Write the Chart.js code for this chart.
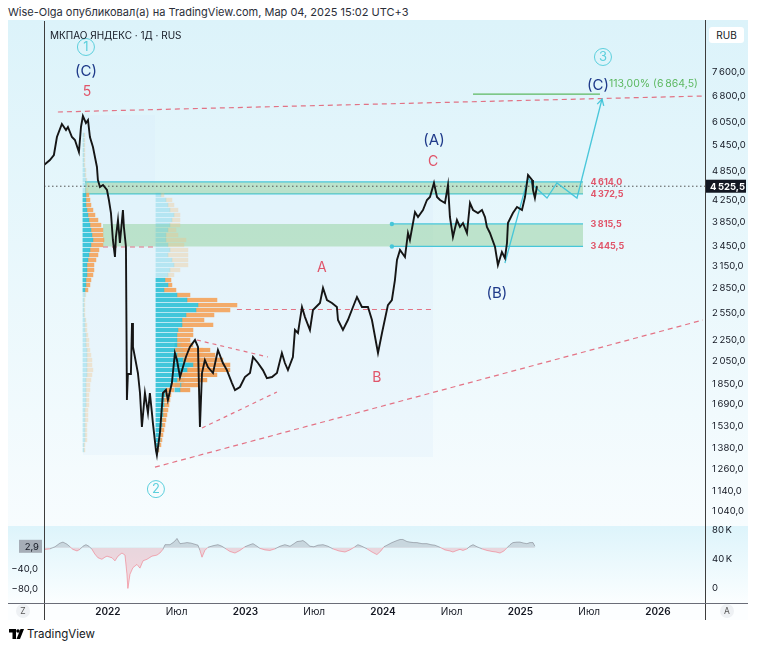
<!DOCTYPE html>
<html lang="ru">
<head>
<meta charset="utf-8">
<title>МКПАО ЯНДЕКС · 1Д</title>
<script src="https://cdn.jsdelivr.net/npm/chart.js@4.4.1/dist/chart.umd.min.js"></script>
<style>
  html, body { margin: 0; padding: 0; }
  body { width: 758px; height: 649px; position: relative; overflow: hidden; background: #fff;
         font-family: Inter, "Noto Sans", "DejaVu Sans", sans-serif; color: #131722; }
  .abs { position: absolute; }
  #title { left: 8px; top: 5px; font-size: 11px; color: #2a2e39; white-space: nowrap; }
  #paneMain { left: 8px; top: 20px; width: 740px; height: 506px; background: linear-gradient(#dcf3fa, #f7fcfe); }
  #paneLow { left: 8px; top: 526px; width: 740px; height: 77px; background: linear-gradient(#ddf4fb, #fbfeff); }
  #paneTime { left: 8px; top: 603px; width: 740px; height: 17px; background: #fcfeff; }
  #vline1 { left: 44px; top: 21px; width: 1px; height: 599px; background: #3d3d3d; }
  #vline2 { left: 705px; top: 20px; width: 1px; height: 600px; background: #3d3d3d; }
  #hline { left: 8px; top: 603px; width: 740px; height: 1px; background: #6a6d78; }
  #legend { left: 50px; top: 29px; font-size: 10px; white-space: nowrap; }
  #rub { left: 709px; top: 27px; width: 35px; height: 16px; line-height: 16px; background: #fff;
         border-radius: 3px; font-size: 10px; text-align: center; }
  .btn { width: 14px; height: 14px; border-radius: 7px; background: #eef1f4; font-size: 8.5px;
         line-height: 14px; text-align: center; color: #555; }
  #logo { left: 9px; top: 627px; font-size: 11.5px; display: flex; align-items: center; gap: 3px; }
  canvas { position: absolute; left: 0; }
</style>
</head>
<body>
<div id="title" class="abs">Wise-Olga опубликовал(а) на TradingView.com, Мар 04, 2025 15:02 UTC+3</div>
<div id="paneMain" class="abs"></div>
<div id="paneLow" class="abs"></div>
<div id="paneTime" class="abs"></div>
<canvas id="mainCanvas" width="758" height="503" style="top:22px"></canvas>
<canvas id="lowCanvas" width="758" height="95" style="top:525px"></canvas>
<div id="vline1" class="abs"></div>
<div id="vline2" class="abs"></div>
<div id="hline" class="abs"></div>
<div id="legend" class="abs">МКПАО ЯНДЕКС · 1Д · RUS</div>
<div id="rub" class="abs">RUB</div>
<div class="abs btn" style="left:16px;top:604px">Z</div>
<div class="abs btn" style="left:720px;top:604px">A</div>
<div id="logo" class="abs">
  <svg width="15" height="10" viewBox="0 0 15 10"><path d="M0 0h7v10h-3.5v-6.5h-3.5z"/><circle cx="9" cy="2" r="1.8"/><path d="M11.5 0h3.5l-4 10h-3.5z"/></svg>
  <span>TradingView</span>
</div>
<script>
// daily close, time as fractional year
const priceT = [
  2021.535, 2021.578, 2021.607, 2021.629, 2021.665, 2021.695, 2021.709, 2021.738, 2021.760, 2021.789,
  2021.804, 2021.818, 2021.840, 2021.855, 2021.869, 2021.891, 2021.920, 2021.927, 2021.942, 2021.964,
  2021.993, 2022.007, 2022.022, 2022.036, 2022.051, 2022.058, 2022.073, 2022.087, 2022.109, 2022.116,
  2022.131, 2022.138, 2022.145, 2022.167, 2022.175, 2022.182, 2022.196, 2022.218, 2022.233, 2022.247,
  2022.269, 2022.291, 2022.305, 2022.320, 2022.327, 2022.349, 2022.356, 2022.378, 2022.400, 2022.422,
  2022.436, 2022.465, 2022.487, 2022.502, 2022.524, 2022.567, 2022.596, 2022.633, 2022.655, 2022.669,
  2022.684, 2022.705, 2022.727, 2022.764, 2022.800, 2022.836, 2022.865, 2022.902, 2022.924, 2022.960,
  2022.996, 2023.033, 2023.055, 2023.091, 2023.127, 2023.156, 2023.193, 2023.229, 2023.265, 2023.287,
  2023.309, 2023.345, 2023.360, 2023.382, 2023.411, 2023.433, 2023.469, 2023.491, 2023.542, 2023.564,
  2023.593, 2023.629, 2023.665, 2023.673, 2023.709, 2023.745, 2023.782, 2023.811, 2023.847, 2023.891,
  2023.920, 2023.956, 2023.964, 2023.993, 2024.036, 2024.065, 2024.087, 2024.102, 2024.124, 2024.160,
  2024.182, 2024.196, 2024.233, 2024.255, 2024.291, 2024.320, 2024.342, 2024.371, 2024.393, 2024.415,
  2024.451, 2024.473, 2024.487, 2024.509, 2024.538, 2024.560, 2024.582, 2024.611, 2024.633, 2024.655,
  2024.691, 2024.720, 2024.742, 2024.756, 2024.778, 2024.815, 2024.836, 2024.865, 2024.887, 2024.902,
  2024.909, 2024.945, 2024.975, 2025.011, 2025.033, 2025.055, 2025.084, 2025.091, 2025.105, 2025.120
];
const priceV = [
  4982, 5096, 5213, 5655, 5997, 5837, 5917, 5655, 5579, 5284,
  5917, 6219, 6025, 6107, 5655, 5405, 4937, 4655, 4510, 4551,
  4449, 4252, 4009, 3548, 3285, 3596, 3884, 3500, 4064, 3763,
  3437, 1719, 1934, 1934, 2437, 2186, 2089, 1943, 1775, 1522,
  1775, 1621, 1775, 1621, 1549, 1371, 1340, 1481, 1775, 1799,
  1719, 1857, 2127, 2061, 1908, 2089, 2186, 2256, 2186, 1522,
  1943, 2061, 1996, 1943, 2156, 2033, 1969, 1857, 1799, 1824,
  1908, 1943, 2089, 2033, 1969, 1899, 1908, 1943, 2127, 2033,
  1969, 2089, 2361, 2329, 2620, 2503, 2361, 2584, 2668, 2855,
  2704, 2668, 2620, 2470, 2361, 2470, 2620, 2741, 2620, 2620,
  2470, 2186, 2127, 2329, 2643, 2704, 2959, 3241, 3391, 3285,
  3662, 3548, 4027, 3937, 4064, 4252, 4310, 4592, 4310, 4252,
  4195, 4551, 3937, 3596, 3884, 3763, 3831, 3662, 4195, 4064,
  4009, 4064, 3937, 3763, 3662, 3437, 3168, 3360, 3270, 3500,
  3831, 4009, 4119, 4064, 4310, 4761, 4655, 4449, 4290, 4525.5
];

// lower pane oscillator
const oscT = [
  2021.542, 2021.578, 2021.615, 2021.651, 2021.673, 2021.702, 2021.724, 2021.745, 2021.775, 2021.796,
  2021.818, 2021.840, 2021.862, 2021.884, 2021.905, 2021.927, 2021.956, 2021.978, 2021.993, 2022.015,
  2022.029, 2022.051, 2022.073, 2022.102, 2022.124, 2022.138, 2022.145, 2022.160, 2022.182, 2022.211,
  2022.233, 2022.255, 2022.284, 2022.320, 2022.356, 2022.378, 2022.400, 2022.415, 2022.451, 2022.473,
  2022.487, 2022.502, 2022.524, 2022.553, 2022.575, 2022.604, 2022.618, 2022.655, 2022.669, 2022.684,
  2022.705, 2022.727, 2022.764, 2022.800, 2022.829, 2022.858, 2022.887, 2022.924, 2022.960, 2022.996,
  2023.033, 2023.055, 2023.084, 2023.105, 2023.142, 2023.178, 2023.215, 2023.251, 2023.287, 2023.324,
  2023.353, 2023.375, 2023.404, 2023.418, 2023.440, 2023.469, 2023.498, 2023.527, 2023.564, 2023.600,
  2023.636, 2023.680, 2023.724, 2023.760, 2023.796, 2023.818, 2023.847, 2023.884, 2023.920, 2023.956,
  2023.985, 2024.007, 2024.029, 2024.065, 2024.102, 2024.124, 2024.145, 2024.175, 2024.196, 2024.225,
  2024.247, 2024.284, 2024.320, 2024.349, 2024.378, 2024.415, 2024.451, 2024.487, 2024.509, 2024.538,
  2024.560, 2024.582, 2024.611, 2024.633, 2024.655, 2024.684, 2024.720, 2024.756, 2024.793, 2024.822,
  2024.851, 2024.880, 2024.902, 2024.924, 2024.945, 2024.975, 2024.996, 2025.025, 2025.047, 2025.069,
  2025.091, 2025.105
];
const oscV = [
  -3, -2, 2, 9, 11, 7, 2, -3, -6, -3,
  3, 6, 3, -3, -12, -19, -22, -18, -16, -18,
  -19, -25, -16, -10, -14, -50, -78, -51, -38, -32,
  -39, -25, -22, -16, -14, -10, -3, 6, 6, 10,
  13, 18, 8, 9, 10, 9, 8, 5, -5, -18,
  -5, 1, 4, 6, 3, -2, -7, -10, -5, 2,
  6, 8, 3, -1, -4, -5, -2, 3, 6, 3,
  8, 12, 13, 14, 10, 3, 2, 5, 6, 3,
  -2, -6, -8, -4, 2, 6, 3, -2, -8, -13,
  -6, 2, 5, 10, 14, 16, 16, 12, 11, 10,
  10, 8, 8, 6, 5, 1, -4, -6, -8, -5,
  -3, -5, -2, 3, 6, 2, -2, -5, -7, -8,
  -10, -6, 0, 6, 10, 11, 11, 9, 8, 10,
  10, 3
];

// volume profile rows (price levels) and volumes per row
const vpLevels = [
  5706, 5578, 5453, 5331, 5212, 5095, 4981, 4870, 4761, 4654, 4550, 4448,
  4350, 4253, 4157, 4064, 3973, 3884, 3797, 3712, 3629, 3548, 3469, 3391, 3315, 3241, 3168, 3097, 3028,
  2960, 2894, 2829, 2766, 2704, 2643, 2584, 2526, 2470, 2415, 2361, 2308, 2256, 2206, 2156, 2108, 2061,
  2015, 1970, 1926, 1882, 1840, 1799, 1759, 1719, 1681, 1643, 1607, 1571, 1535, 1501, 1468, 1435, 1403, 1371
];
const vp1Up = [
  1, 1, 1, 1, 1, 1, 1, 2, 2, 3, 4, 3,
  3, 3, 3, 4, 5, 6, 7, 8, 9, 10, 8, 7, 6, 5, 4, 4, 4, 3, 3, 2,
  2, 1, 1, 1, 1, 2, 2, 2, 3, 3, 3, 4, 4, 4, 4, 4, 4, 3, 3, 3, 3, 3, 3, 2, 2, 2, 2, 2, 2, 2, 1, 1
];
const vp1Down = [
  1, 1, 1, 1, 1, 1, 1, 1, 1, 1, 2, 2,
  3, 4, 5, 6, 7, 9, 11, 12, 11, 11, 12, 9, 9, 8, 7, 7, 6, 5, 4, 3,
  1, 1, 1, 1, 1, 1, 2, 2, 2, 3, 3, 3, 4, 5, 5, 6, 5, 5, 4, 4, 3, 3, 3, 3, 3, 3, 2, 2, 2, 2, 1, 1
];
const vp2Up = [
  5, 10, 12, 14, 18, 16, 14, 12, 10, 10, 12, 14, 12, 16, 18, 14, 12,
  9, 12, 8, 21, 31, 42, 40, 30, 26, 26, 22, 21, 21, 21, 19, 21, 27, 37, 31, 24, 21, 15,
  10, 9, 8, 8, 7, 7, 6, 6, 5, 4, 4, 3, 2
];
const vp2Down = [
  3, 6, 6, 8, 6, 8, 10, 8, 12, 20, 16, 18, 20, 16, 14, 10, 6,
  6, 4, 12, 13, 30, 39, 34, 28, 22, 31, 15, 16, 13, 10, 28, 24, 17, 17, 23, 17, 7, 9,
  8, 6, 6, 5, 5, 4, 4, 3, 3, 3, 2, 2, 1
];
const vp3Levels = [2206, 2156, 2108, 2061, 2015, 1970, 1926, 1882, 1840, 1799];
const vp3Up = [6, 8, 10, 12, 14, 13, 10, 8, 6, 5];
const vp3Down = [12, 27, 30, 36, 41, 42, 32, 24, 18, 10];

// levels and drawings
const zone1 = [4614.0, 4372.5];
const zone2 = [3815.5, 3445.5];
const levelLabels = [4614.0, 4372.5, 3815.5, 3445.5];
const lastPrice = 4525.5;
const targetPrice = 6864.5;
const targetPct = '113,00%';
const projT = [2024.887, 2025.055, 2025.091, 2025.193, 2025.265, 2025.411, 2025.593];
const projV = [3197, 4697, 4551, 4290, 4592, 4290, 6716];
const upperTrendT = [2021.636, 2026.327], upperTrendV = [6333, 6808];
const lowerTrendT = [2022.342, 2026.327], lowerTrendV = [1269, 2470];
const triTopT = [2022.647, 2023.164], triTopV = [2256, 2089];
const triBotT = [2022.684, 2023.229], triBotV = [1515, 1783];
const poc1T = [2021.964, 2022.342], poc1V = 3437;
const poc2T = [2022.938, 2024.356], poc2V = 2590;

const waveNotes = [
  { t: 2021.840, p: 8499, text: '1', kind: 'circle' },
  { t: 2021.840, p: 7624, text: '(C)', kind: 'navy' },
  { t: 2021.847, p: 6933, text: '5', kind: 'red' },
  { t: 2022.349, p: 1149, text: '2', kind: 'circle' },
  { t: 2023.556, p: 3125, text: 'A', kind: 'red' },
  { t: 2023.956, p: 1899, text: 'B', kind: 'red' },
  { t: 2024.364, p: 5050, text: 'C', kind: 'red' },
  { t: 2024.371, p: 5579, text: '(A)', kind: 'navy' },
  { t: 2024.829, p: 2791, text: '(B)', kind: 'navy' },
  { t: 2025.600, p: 8123, text: '3', kind: 'circle' },
  { t: 2025.564, p: 7156, text: '(C)', kind: 'navy' }
];

// axes
const priceTicks = [7600, 6800, 6050, 5450, 4850, 4250, 3850, 3450, 3150, 2850, 2550, 2250, 2050, 1850, 1690, 1530, 1380, 1260, 1140, 1040];
const timeTicks = [2022, 2022.5, 2023, 2023.5, 2024, 2024.5, 2025, 2025.5, 2026];
const timeLabels = ['2022', 'Июл', '2023', 'Июл', '2024', 'Июл', '2025', 'Июл', '2026'];
const oscTicks = [-40, -80];
const oscLast = 2.9;
const volTicks = [0, 40, 80];

const X_MIN = 2021.535, X_MAX = 2026.342;
const P_MIN = 976.6, P_MAX = 9517;
const FONT = 'Inter, "Noto Sans", sans-serif';
const RED = '#e0556a', NAVY = '#1f3a8a', TEAL = '#5ccfdc', CYAN = 'rgba(64,196,216,0.95)';
const DASH_RED = 'rgba(226,92,112,0.85)';

function fmtRu(v, d) {
  const s = Math.abs(v).toFixed(d).split('.');
  const int = s[0].replace(/\B(?=(\d{3})+(?!\d))/g, '\u2009');
  return (v < 0 ? '\u2212' : '') + int + (d ? ',' + s[1] : '');
}
const pts = (ts, vs) => ts.map((t, i) => ({ x: t, y: vs[i] }));
const flat = (ts, v) => ts.map(t => ({ x: t, y: v }));
function lineDs(data, color, extra) {
  return Object.assign({ type: 'line', data, borderColor: color, borderWidth: 1.2, pointRadius: 0, fill: false, tension: 0, order: 2 }, extra || {});
}
function noPad(s) { s.paddingTop = 0; s.paddingBottom = 0; s.paddingLeft = 0; s.paddingRight = 0; }

const VP_T = 1 / 137.5; // time span of one volume unit
function profile(levels, up, down, base, vaLow, vaHigh, cols) {
  const inVa = c => c.raw && c.raw.y >= vaLow && c.raw.y <= vaHigh;
  const common = { type: 'bar', indexAxis: 'y', grouped: false, barThickness: 3.6, maxBarThickness: 3.6, borderWidth: 0, order: 4 };
  return [
    Object.assign({}, common, {
      data: levels.map((p, i) => ({ y: p, x: [base, base + up[i] * VP_T] })),
      backgroundColor: c => inVa(c) ? cols[0] : cols[2]
    }),
    Object.assign({}, common, {
      data: levels.map((p, i) => ({ y: p, x: [base + up[i] * VP_T, base + (up[i] + down[i]) * VP_T] })),
      backgroundColor: c => inVa(c) ? cols[1] : cols[3]
    })
  ];
}
const vpCols = ['rgba(46,192,214,0.9)', 'rgba(244,162,90,0.9)', 'rgba(60,195,220,0.28)', 'rgba(245,190,120,0.32)'];

const datasets = [
  lineDs(pts(priceT, priceV), '#151515', { borderWidth: 1.9, order: 0 }),
  lineDs(pts(projT, projV), CYAN, { borderWidth: 1.3, order: 1 }),
  lineDs(flat([2024.655, 2025.578], targetPrice), '#5cb860', { order: 1 }),
  lineDs(flat([X_MIN, X_MAX], lastPrice), '#555', { borderWidth: 1, borderDash: [1.5, 2.5] }),
  lineDs(pts(upperTrendT, upperTrendV), DASH_RED, { borderDash: [5, 4] }),
  lineDs(pts(lowerTrendT, lowerTrendV), DASH_RED, { borderDash: [5, 4] }),
  lineDs(pts(triTopT, triTopV), DASH_RED, { borderDash: [4, 4] }),
  lineDs(pts(triBotT, triBotV), DASH_RED, { borderDash: [4, 4] }),
  lineDs(flat(poc1T, poc1V), DASH_RED, { borderDash: [5, 4] }),
  lineDs(flat(poc2T, poc2V), DASH_RED, { borderDash: [5, 4] }),
  ...profile(vpLevels, vp1Up, vp1Down, 2021.818, 2800, 4400, vpCols),
  ...profile(vpLevels.slice(12), vp2Up, vp2Down, 2022.349, 0, 2990, vpCols),
  ...profile(vp3Levels, vp3Up, vp3Down, 2022.487, 0, 1e9, ['rgba(46,192,214,0.85)', 'rgba(240,150,70,0.85)', '', '']),
  lineDs(flat([2021.833, 2025.455], zone1[0]), CYAN, { order: 6, fill: { value: zone1[1] }, backgroundColor: 'rgba(102,187,106,0.33)' }),
  lineDs(flat([2021.833, 2025.455], zone1[1]), CYAN, { order: 6 }),
  lineDs(flat([2021.964, 2025.455], zone2[0]), 'transparent', { order: 7, fill: { value: zone2[1] }, backgroundColor: 'rgba(102,187,106,0.33)' }),
  lineDs(flat([2024.065, 2025.455], zone2[0]), CYAN, { order: 6, pointRadius: [2.2, 0], pointBackgroundColor: CYAN, pointBorderWidth: 0 }),
  lineDs(flat([2024.065, 2025.455], zone2[1]), CYAN, { order: 6, pointRadius: [2.2, 0], pointBackgroundColor: CYAN, pointBorderWidth: 0 }),
  lineDs(flat([2021.818, 2022.342], 6244), 'transparent', { order: 9, fill: { value: 1340 }, backgroundColor: 'rgba(214,232,250,0.22)' }),
  lineDs(flat([2022.342, 2024.364], 4449), 'transparent', { order: 9, fill: { value: 1328 }, backgroundColor: 'rgba(214,232,250,0.22)' })
];
const projIndex = 1;

const mainDecor = {
  id: 'mainDecor',
  afterDatasetsDraw(chart) {
    const { ctx, chartArea, scales: { x, y } } = chart;
    ctx.save();
    // open arrow head at the end of the projected wave
    const pm = chart.getDatasetMeta(projIndex).data;
    const a = pm[pm.length - 2], b = pm[pm.length - 1];
    const ang = Math.atan2(b.y - a.y, b.x - a.x);
    ctx.strokeStyle = CYAN; ctx.lineWidth = 1.3;
    ctx.beginPath();
    ctx.moveTo(b.x - 7 * Math.cos(ang - 0.5), b.y - 7 * Math.sin(ang - 0.5));
    ctx.lineTo(b.x, b.y);
    ctx.lineTo(b.x - 7 * Math.cos(ang + 0.5), b.y - 7 * Math.sin(ang + 0.5));
    ctx.stroke();

    // wave labels
    ctx.textAlign = 'center'; ctx.textBaseline = 'middle';
    waveNotes.forEach(n => {
      const px = x.getPixelForValue(n.t), py = y.getPixelForValue(n.p);
      if (n.kind === 'circle') {
        ctx.strokeStyle = TEAL; ctx.lineWidth = 1;
        ctx.beginPath(); ctx.arc(px, py, 8.5, 0, Math.PI * 2); ctx.stroke();
        ctx.fillStyle = TEAL; ctx.font = `13px ${FONT}`;
        ctx.fillText(n.text, px, py + 0.5);
      } else {
        ctx.fillStyle = n.kind === 'navy' ? NAVY : RED;
        ctx.font = `${n.kind === 'navy' ? 15 : 14}px ${FONT}`;
        ctx.fillText(n.text, px, py);
      }
    });

    // level labels right of the zones
    ctx.textAlign = 'left';
    ctx.font = `bold 9px ${FONT}`;
    ctx.fillStyle = RED;
    const lx = x.getPixelForValue(2025.51);
    levelLabels.forEach(v => ctx.fillText(fmtRu(v, 1), lx, y.getPixelForValue(v)));

    // target label
    ctx.font = `10.5px ${FONT}`;
    ctx.fillStyle = '#5cb860';
    ctx.fillText(`${targetPct} (${fmtRu(targetPrice, 1)})`, x.getPixelForValue(2025.644), y.getPixelForValue(7188));

    // last price marker on the axis
    const py = y.getPixelForValue(lastPrice);
    ctx.fillStyle = '#131722';
    ctx.fillRect(chartArea.right + 1, py - 6.5, 40, 13);
    ctx.fillStyle = '#fff';
    ctx.font = `bold 9.5px ${FONT}`;
    ctx.fillText(fmtRu(lastPrice, 1), chartArea.right + 5, py + 0.5);
    ctx.restore();
  }
};

new Chart(document.getElementById('mainCanvas'), {
  type: 'line',
  data: { datasets },
  options: {
    responsive: false, animation: false, devicePixelRatio: 1, events: [],
    layout: { padding: { left: 44, right: 10, top: 0, bottom: 0 }, autoPadding: false },
    plugins: { legend: { display: false }, tooltip: { enabled: false } },
    scales: {
      x: { type: 'linear', min: X_MIN, max: X_MAX, display: false, stacked: false, offset: false, beginAtZero: false },
      y: {
        type: 'logarithmic', position: 'right', min: P_MIN, max: P_MAX, offset: false,
        grid: { display: false, drawTicks: false }, border: { display: false },
        afterFit: s => { s.width = 43; noPad(s); },
        afterBuildTicks: s => { s.ticks = priceTicks.map(v => ({ value: v })); },
        ticks: { autoSkip: false, padding: 7, color: '#131722', font: { family: FONT, size: 9.5 }, callback: v => fmtRu(v, 1) }
      }
    }
  },
  plugins: [mainDecor]
});

const lowDecor = {
  id: 'lowDecor',
  afterDraw(chart) {
    const { ctx, chartArea, scales: { y } } = chart;
    const py = y.getPixelForValue(oscLast);
    ctx.save();
    ctx.fillStyle = 'rgba(150,155,165,0.8)';
    ctx.fillRect(chartArea.left - 25, py - 6.5, 23, 13);
    ctx.fillStyle = '#131722';
    ctx.font = `9.5px ${FONT}`;
    ctx.textAlign = 'right'; ctx.textBaseline = 'middle';
    ctx.fillText(fmtRu(oscLast, 1), chartArea.left - 5, py + 0.5);
    ctx.restore();
  }
};

new Chart(document.getElementById('lowCanvas'), {
  type: 'line',
  data: {
    datasets: [{
      data: pts(oscT, oscV), borderWidth: 1, pointRadius: 0, tension: 0,
      segment: { borderColor: c => (c.p0.parsed.y + c.p1.parsed.y) >= 0 ? 'rgba(120,123,134,0.55)' : 'rgba(242,100,115,0.5)' },
      fill: { target: 'origin', above: 'rgba(130,133,144,0.28)', below: 'rgba(242,110,125,0.24)' }
    }]
  },
  options: {
    responsive: false, animation: false, devicePixelRatio: 1, events: [],
    layout: { padding: { left: 8, right: 10, top: 2, bottom: 0 }, autoPadding: false },
    plugins: { legend: { display: false }, tooltip: { enabled: false } },
    scales: {
      x: {
        type: 'linear', min: X_MIN, max: X_MAX,
        grid: { display: false, drawTicks: false }, border: { display: false },
        afterFit: s => { s.height = 17; noPad(s); },
        afterBuildTicks: s => { s.ticks = timeTicks.map(v => ({ value: v })); },
        ticks: {
          autoSkip: false, maxRotation: 0, padding: 3, color: '#131722',
          font: c => ({ family: FONT, size: 10, weight: /^\d/.test(timeLabels[c.index] || '') ? '600' : '400' }),
          callback: (v, i) => timeLabels[i]
        }
      },
      y: {
        position: 'left', min: -106, max: 40,
        grid: { display: false, drawTicks: false }, border: { display: false },
        afterFit: s => { s.width = 36; noPad(s); },
        afterBuildTicks: s => { s.ticks = oscTicks.map(v => ({ value: v })); },
        ticks: { autoSkip: false, padding: 6, color: '#131722', font: { family: FONT, size: 9.5 }, callback: v => fmtRu(v, 1) }
      },
      y2: {
        position: 'right', min: -20.7, max: 84.1,
        grid: { display: false, drawTicks: false }, border: { display: false },
        afterFit: s => { s.width = 43; noPad(s); },
        afterBuildTicks: s => { s.ticks = volTicks.map(v => ({ value: v })); },
        ticks: { autoSkip: false, padding: 7, color: '#131722', font: { family: FONT, size: 9.5 }, callback: v => v === 0 ? '0' : v + '\u2009K' }
      }
    }
  },
  plugins: [lowDecor]
});
</script>
</body>
</html>
